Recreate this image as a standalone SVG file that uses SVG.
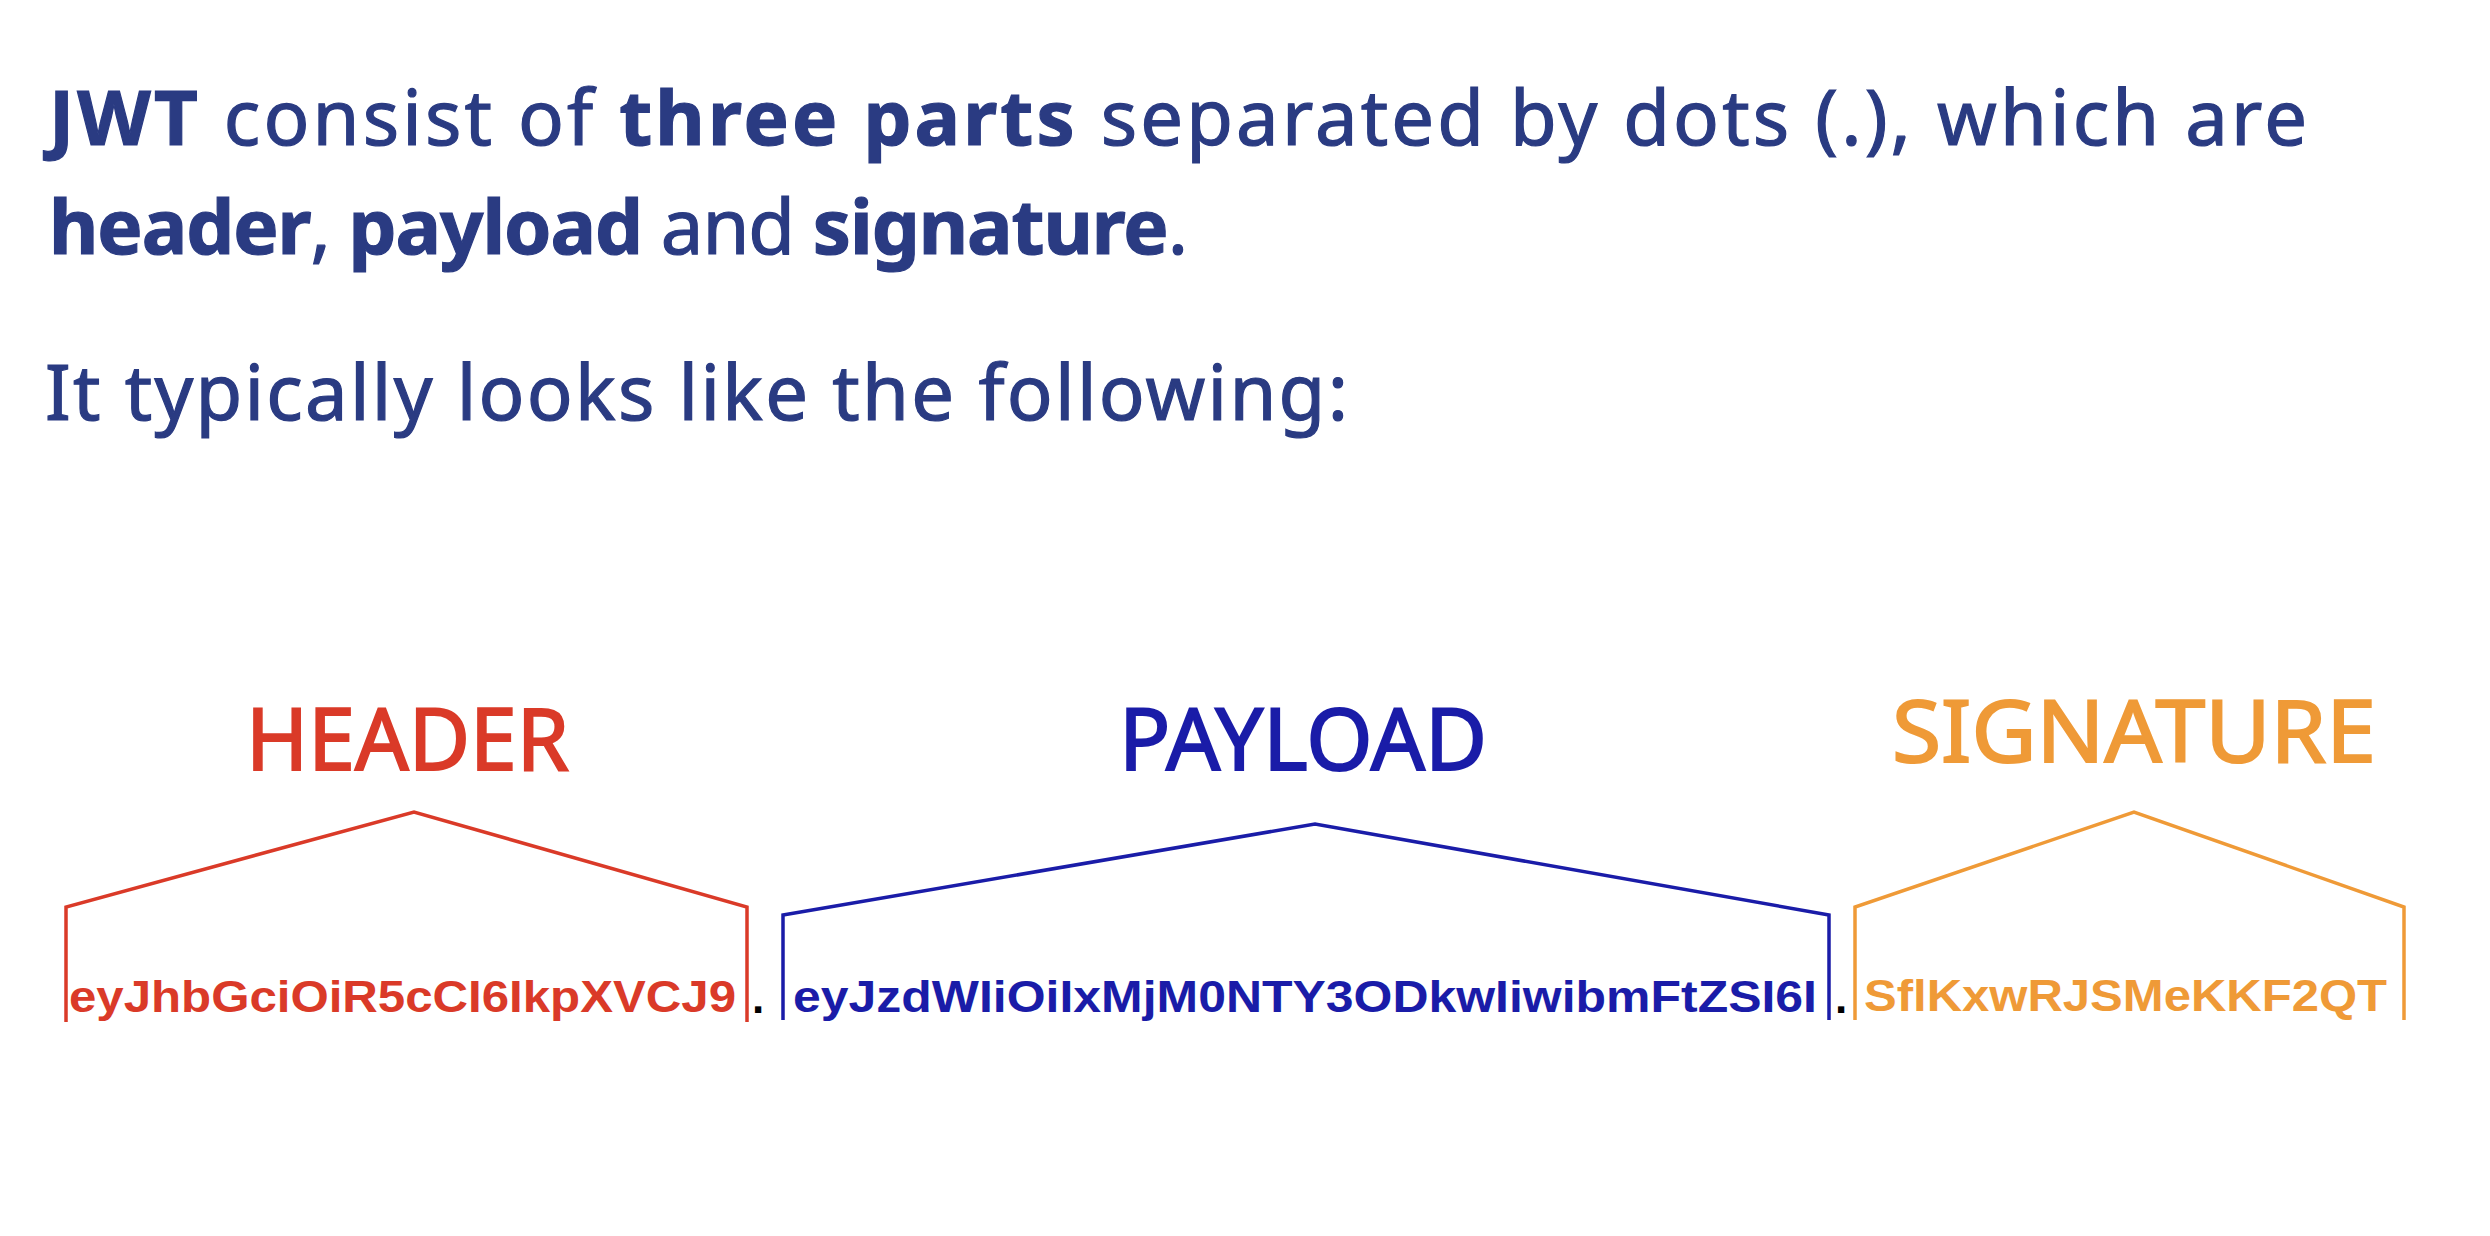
<svg xmlns="http://www.w3.org/2000/svg" width="2490" height="1236" viewBox="0 0 2490 1236">
  <style>
    .intro { font-family: "Noto Sans", "DejaVu Sans", sans-serif; font-size: 76px; fill: #2A3B82; stroke: #2A3B82; stroke-width: 1.2px; }
    .b { font-weight: bold; }
    .label { font-family: "Noto Sans", "DejaVu Sans", sans-serif; font-size: 86px; stroke-width: 2px; }
    .token { font-family: "Liberation Sans", Arial, sans-serif; font-weight: bold; font-size: 44px; }
    .dot { font-family: "Liberation Sans", Arial, sans-serif; font-weight: bold; font-size: 44px; fill: #000000; }
    .red { fill: #DA3A28; stroke: #DA3A28; }
    .blue { fill: #1A1CA8; stroke: #1A1CA8; }
    .orange { fill: #EF9A37; stroke: #EF9A37; }
    .token.red, .token.blue, .token.orange { stroke: none; }
    .bracket { fill: none; stroke-width: 3.5; stroke-linejoin: miter; }
  </style>
  <rect width="2490" height="1236" fill="#FFFFFF"/>

  <g id="intro">
    <text class="intro" x="49" y="145" textLength="2258" lengthAdjust="spacing"><tspan class="b">JWT</tspan> consist of <tspan class="b">three parts</tspan> separated by dots (.), which are</text>
    <text class="intro" x="49" y="254" textLength="1139" lengthAdjust="spacing"><tspan class="b">header</tspan>, <tspan class="b">payload</tspan> and <tspan class="b">signature</tspan>.</text>
    <text class="intro" x="45" y="420" textLength="1303" lengthAdjust="spacing">It typically looks like the following:</text>
  </g>

  <g id="connectors">
    <polyline class="bracket" stroke="#DA3A28" points="66,1022 66,907 414,812 747,907 747,1022"/>
    <polyline class="bracket" stroke="#1A1CA8" points="783,1020 783,915 1315,824 1829,915 1829,1020"/>
    <polyline class="bracket" stroke="#EF9A37" points="1855,1020 1855,907 2134,812 2404,907 2404,1020"/>
  </g>

  <g id="header">
    <text class="label red" x="246" y="770" textLength="323" lengthAdjust="spacingAndGlyphs">HEADER</text>
    <text class="token red" x="69" y="1012" textLength="667" lengthAdjust="spacingAndGlyphs">eyJhbGciOiR5cCI6IkpXVCJ9</text>
  </g>

  <g id="payload">
    <text class="label blue" x="1119" y="770" textLength="368" lengthAdjust="spacingAndGlyphs">PAYLOAD</text>
    <text class="token blue" x="793" y="1012" textLength="1024" lengthAdjust="spacingAndGlyphs">eyJzdWIiOiIxMjM0NTY3ODkwIiwibmFtZSI6I</text>
  </g>

  <g id="signature">
    <text class="label orange" x="1892" y="762" textLength="484" lengthAdjust="spacingAndGlyphs">SIGNATURE</text>
    <text class="token orange" x="1864" y="1011" textLength="523" lengthAdjust="spacingAndGlyphs">SflKxwRJSMeKKF2QT</text>
  </g>

  <g id="separators">
    <text class="dot" x="752" y="1013">.</text>
    <text class="dot" x="1835" y="1013">.</text>
  </g>
</svg>
